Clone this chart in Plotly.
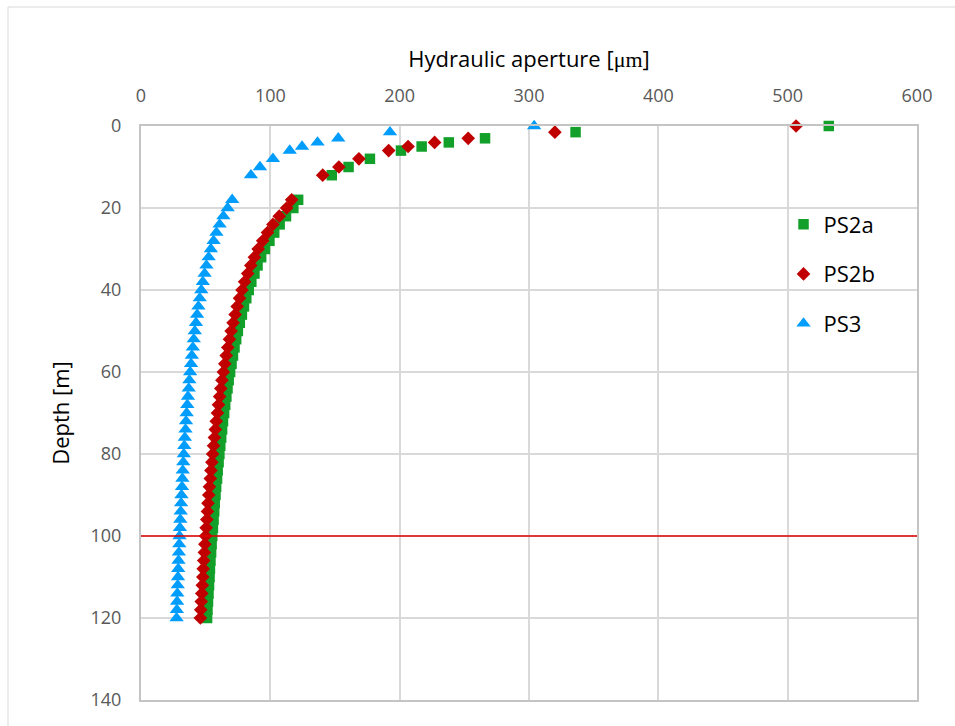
import plotly.graph_objects as go

# Depths [m] of the packer-test intervals
depth = [0, 1.5, 3, 4, 5, 6, 8, 10, 12,
         18, 20, 22, 24, 26, 28, 30, 32, 34, 36, 38, 40, 42, 44, 46, 48, 50,
         52, 54, 56, 58, 60, 62, 64, 66, 68, 70, 72, 74, 76, 78, 80, 82, 84,
         86, 88, 90, 92, 94, 96, 98, 100, 102, 104, 106, 108, 110, 112, 114,
         116, 118, 120]

# Hydraulic aperture [um] per borehole
ps2a = [531.8, 336.0, 266.0, 238.0, 217.0, 201.0, 177.0, 160.5, 147.5,
        121.5, 117.8, 112.1, 107.2, 103.0, 99.3, 95.8, 92.9, 90.1, 87.7, 85.3,
        83.3, 81.4, 79.6, 78.0, 76.4, 74.9, 73.6, 72.3, 71.1, 70.0, 68.9,
        67.8, 66.9, 66.0, 65.1, 64.3, 63.4, 62.7, 62.0, 61.3, 60.6, 60.0,
        59.3, 58.8, 58.1, 57.6, 57.0, 56.6, 56.1, 55.6, 55.1, 54.6, 54.2,
        53.7, 53.3, 53.0, 52.6, 52.2, 51.8, 51.4, 51.1]

ps2b = [506.5, 320.0, 253.0, 227.0, 206.5, 191.5, 168.5, 153.0, 140.5,
        116.5, 112.6, 106.9, 102.0, 97.8, 94.1, 90.6, 87.7, 84.9, 82.5, 80.1,
        78.1, 76.2, 74.4, 72.8, 71.2, 69.7, 68.4, 67.1, 65.9, 64.8, 63.7,
        62.6, 61.7, 60.8, 59.9, 59.1, 58.2, 57.5, 56.8, 56.1, 55.4, 54.8,
        54.1, 53.6, 52.9, 52.4, 51.8, 51.4, 50.9, 50.4, 49.9, 49.4, 49.0,
        48.5, 48.1, 47.8, 47.4, 47.0, 46.6, 46.2, 45.9]

ps3 = [304.0, 192.5, 152.5, 136.5, 124.5, 115.0, 102.0, 92.0, 85.0,
       70.5, 67.0, 63.7, 60.8, 58.3, 56.1, 54.0, 52.3, 50.6, 49.2, 47.8,
       46.6, 45.4, 44.4, 43.4, 42.5, 41.6, 40.8, 40.1, 39.3, 38.7, 38.0,
       37.4, 36.9, 36.3, 35.8, 35.3, 34.8, 34.4, 33.9, 33.5, 33.1, 32.7,
       32.3, 32.0, 31.7, 31.3, 31.0, 30.7, 30.4, 30.1, 29.8, 29.6, 29.3,
       29.0, 28.8, 28.6, 28.4, 28.1, 27.9, 27.7, 27.5]

# Reference depth marked by the red horizontal line
ref_depth = 100
x_range = [0, 600]

series = [
    ("PS2a", ps2a, "square", 10.5, "#13a02a"),
    ("PS2b", ps2b, "diamond", 10.5, "#c00000"),
    ("PS3", ps3, "triangle-up", 12.5, "#009dfc"),
]

fig = go.Figure()
for name, vals, symbol, size, color in series:
    fig.add_trace(go.Scatter(
        x=vals, y=depth, mode="markers", name=name, legendgroup=name,
        cliponaxis=False,
        marker=dict(symbol=symbol, size=size, color=color, line=dict(width=0)),
    ))

fig.add_trace(go.Scatter(
    x=x_range, y=[ref_depth, ref_depth], mode="lines", showlegend=False,
    line=dict(color="#e00000", width=1.5), hoverinfo="skip",
))

tick_font = dict(family="Open Sans, sans-serif", size=18, color="#595959")
title_font = dict(family="Open Sans, sans-serif", size=22, color="#000000")

fig.update_layout(
    width=955, height=726,
    margin=dict(l=141, r=38, t=126, b=26),
    paper_bgcolor="white", plot_bgcolor="white",
    showlegend=True,
    legend=dict(
        x=0.828, y=0.865, xanchor="left", yanchor="top",
        font=dict(family="Open Sans, sans-serif", size=22, color="#000000"),
        tracegroupgap=18, bgcolor="rgba(0,0,0,0)", itemwidth=30,
    ),
    xaxis=dict(
        side="top", range=x_range, dtick=100, tick0=0,
        showgrid=True, gridcolor="#d9d9d9", gridwidth=1.5,
        showline=True, linecolor="#c4c4c4", linewidth=2, mirror=True,
        zeroline=False, ticks="", ticklabelstandoff=15,
        tickfont=tick_font,
        title=dict(text="Hydraulic aperture [<span style='font-family:Liberation Serif'>μm</span>]",
                   font=title_font, standoff=9),
    ),
    yaxis=dict(
        range=[140, 0], dtick=20, tick0=0,
        showgrid=True, gridcolor="#d9d9d9", gridwidth=1.5,
        showline=True, linecolor="#c4c4c4", linewidth=2, mirror=True,
        zeroline=False, ticks="", ticklabelstandoff=14,
        tickfont=tick_font,
        title=dict(text="Depth [m]", font=title_font, standoff=15),
    ),
    shapes=[dict(
        type="rect", xref="paper", yref="paper",
        x0=(8 - 141) / 776, x1=(975 - 141) / 776,
        y0=(700 - 760) / 574, y1=(700 - 7) / 574,
        line=dict(color="#d9d9d9", width=1), fillcolor="rgba(0,0,0,0)",
        layer="below",
    )],
)

fig.write_html("out.html")
